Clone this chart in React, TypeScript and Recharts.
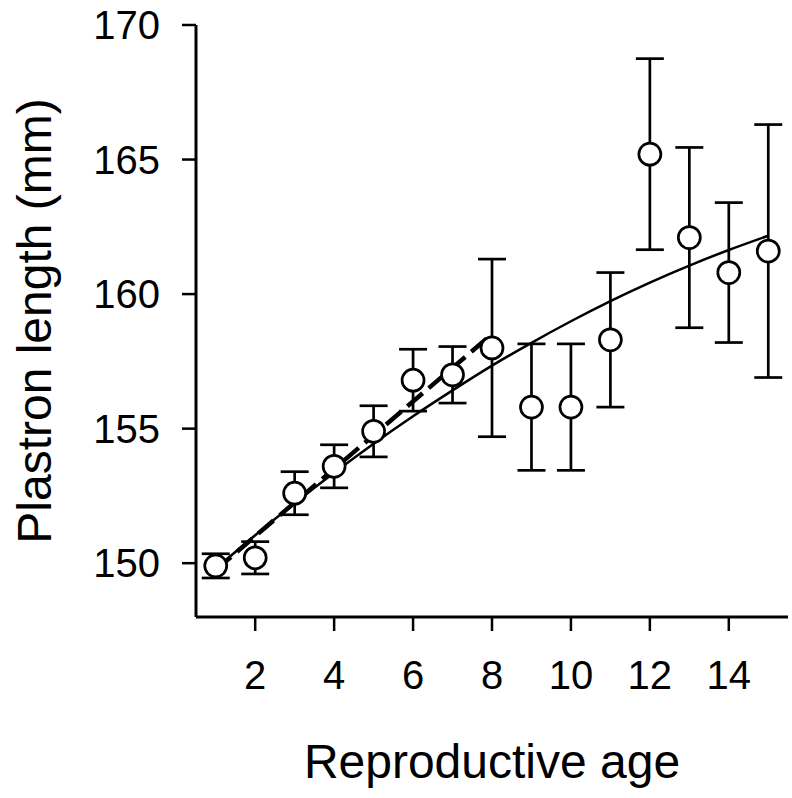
import React from 'react';
import {
  ComposedChart, Scatter, Line, XAxis, YAxis, ErrorBar
} from 'recharts';

// age classes and mean plastron length (mm) with error bar half-widths
const ages = [1, 2, 3, 4, 5, 6, 7, 8, 9, 10, 11, 12, 13, 14, 15];
const means = [149.9, 150.2, 152.6, 153.6, 154.9, 156.8, 157.0, 158.0, 155.8, 155.8, 158.3, 165.2, 162.1, 160.8, 161.6];
const errors = [0.45, 0.6, 0.8, 0.8, 0.95, 1.15, 1.05, 3.3, 2.35, 2.35, 2.5, 3.55, 3.35, 2.6, 4.7];

const fitValues = [149.8, 151.04, 152.23, 153.36, 154.44, 155.46, 156.42, 157.34, 158.19, 158.99, 159.74, 160.43, 161.06, 161.64, 162.17];

// linear fit for the early ages (dashed)
const linAges = [1, 7.95];
const linValues = [149.75, 158.45];

const xTicks = [2, 4, 6, 8, 10, 12, 14];
const yTicks = [150, 155, 160, 165, 170];

const points = ages.map((x, i) => ({ x, y: means[i], err: errors[i] }));
const fitData = ages.map((x, i) => ({ x, y: fitValues[i] }));
const linData = linAges.map((x, i) => ({ x, y: linValues[i] }));

const font = '"Liberation Sans", Arial, sans-serif';

const OpenCircle = (props: any) => {
  const { cx, cy } = props;
  if (cx == null || cy == null) return null;
  return <circle cx={cx} cy={cy} r={11} fill="#fff" stroke="#000" strokeWidth={2.7} />;
};

export default function App() {
  return (
    <div style={{ position: 'absolute', left: 0, top: 0, background: '#fff' }}>
      <ComposedChart width={792} height={798} margin={{ top: 25, right: 4, bottom: 0, left: 0 }}>
        <XAxis
          dataKey="x"
          type="number"
          domain={[0.5, 15.5]}
          ticks={xTicks}
          allowDataOverflow
          height={181}
          tickSize={14}
          tickMargin={30}
          axisLine={{ stroke: '#000', strokeWidth: 3 }}
          tickLine={{ stroke: '#000', strokeWidth: 2.5 }}
          tick={{ fill: '#000', fontSize: 40, fontFamily: font }}
          label={{ value: 'Reproductive age', position: 'insideBottom', offset: 20, fill: '#000', fontSize: 48, fontFamily: font }}
        />
        <YAxis
          dataKey="y"
          type="number"
          domain={[148, 170]}
          ticks={yTicks}
          allowDataOverflow
          width={196}
          tickSize={14}
          tickMargin={22}
          axisLine={{ stroke: '#000', strokeWidth: 3 }}
          tickLine={{ stroke: '#000', strokeWidth: 2.5 }}
          tick={{ fill: '#000', fontSize: 40, fontFamily: font }}
          label={{
            value: 'Plastron length (mm)', angle: -90, position: 'insideLeft', offset: 34,
            fill: '#000', fontSize: 48, fontFamily: font, style: { textAnchor: 'middle' }
          }}
        />
        <Scatter data={points} dataKey="y" shape={OpenCircle} isAnimationActive={false}>
          <ErrorBar dataKey="err" direction="y" width={14} stroke="#000" strokeWidth={2.7} isAnimationActive={false} />
        </Scatter>
        <Line data={fitData} dataKey="y" type="natural" stroke="#000" strokeWidth={2.5} dot={false} activeDot={false} isAnimationActive={false} />
        <Line data={linData} dataKey="y" type="linear" stroke="#000" strokeWidth={4.5} strokeDasharray="20 8" dot={false} activeDot={false} isAnimationActive={false} />
      </ComposedChart>
    </div>
  );
}
